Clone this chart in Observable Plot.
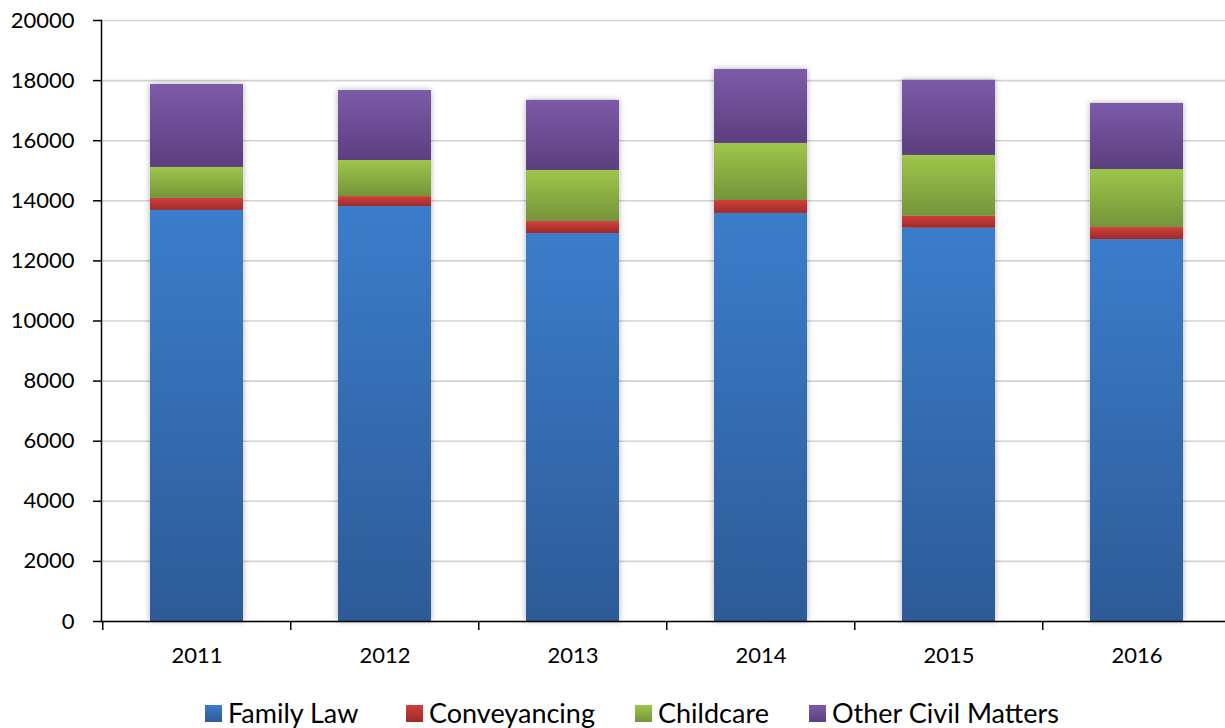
<!DOCTYPE html>
<html><head><meta charset="utf-8">
<script src="https://cdn.jsdelivr.net/npm/d3@7"></script>
<script src="https://cdn.jsdelivr.net/npm/@observablehq/plot@0.6"></script>
<style>
html,body{margin:0;padding:0;background:#fff;overflow:hidden;width:1225px;height:728px}
#wrap{position:relative;width:1225px;height:728px;overflow:hidden}
#chart{position:absolute;left:0;top:0;width:1232px}
#chart svg{max-width:none !important}
#legend{position:absolute;left:0;top:697px;width:1225px;height:32px;font-family:Lato,sans-serif;font-size:27px;color:#000;white-space:nowrap;line-height:32px}
.item{position:absolute;top:0;display:flex;align-items:center}
.sw{width:17px;height:17px;margin-right:6px}
</style>
</head><body>
<div id="wrap"><div id="chart"></div><div id="legend"></div></div>
<script>
const years = ["2011", "2012", "2013", "2014", "2015", "2016"];
const series = ["Family Law", "Conveyancing", "Childcare", "Other Civil Matters"];
const familyLaw = [13680, 13810, 12910, 13580, 13090, 12710];
const conveyancing = [400, 330, 400, 430, 400, 400];
const childcare = [1030, 1200, 1700, 1900, 2020, 1930];
const otherCivil = [2760, 2330, 2330, 2460, 2500, 2200];
const yTicks = [0, 2000, 4000, 6000, 8000, 10000, 12000, 14000, 16000, 18000, 20000];

const gradients = [
  ["#3b7dcb", "#2d5b97"],
  ["#d0403d", "#9e2b29"],
  ["#9ec64b", "#759439"],
  ["#7c5aa9", "#5c3f7e"]
];
const legendLeft = [205, 406, 635, 809];

const valuesBySeries = [familyLaw, conveyancing, childcare, otherCivil];
const data = [];
series.forEach((s, si) => years.forEach((y, yi) => data.push({year: y, series: s, value: valuesBySeries[si][yi]})));

const W = 1232, ML = 101, MR = 0;
const step = (W - ML - MR) / years.length;

const chart = Plot.plot({
  width: W,
  height: 680,
  marginLeft: ML,
  marginRight: MR,
  marginTop: 20,
  marginBottom: 59,
  style: {fontFamily: "Lato, sans-serif", fontSize: "22px", color: "#000", background: "#fff", maxWidth: "none"},
  x: {domain: years, paddingInner: 0.505, paddingOuter: 0.2525, label: null},
  y: {domain: [0, 20000], label: null},
  color: {domain: series, range: series.map((s, i) => `url(#grad${i})`)},
  marks: [
    Plot.gridY(yTicks, {stroke: "#d3d3d3", strokeOpacity: 1, strokeWidth: 1.6}),
    Plot.barY(data, {x: "year", y: "value", fill: "series", order: null}),
    Plot.axisY(yTicks, {tickSize: 8, tickPadding: 19, tickFormat: d3.format("d"), strokeWidth: 1.5, fontSize: 22}),
    Plot.axisX(years, {tickSize: 9, dx: -step / 2, tickFormat: () => "", strokeWidth: 1.5}),
    Plot.axisX(years, {tickSize: 0, tickPadding: 26, fontSize: 22}),
    Plot.frame({anchor: "left", stroke: "#000", strokeWidth: 1.5}),
    Plot.ruleY([0], {stroke: "#000", strokeWidth: 1.5})
  ]
});

const svg = d3.select(chart);
const defs = svg.insert("defs", ":first-child");
gradients.forEach((g, i) => {
  const lg = defs.append("linearGradient").attr("id", `grad${i}`).attr("x1", 0).attr("y1", 0).attr("x2", 0).attr("y2", 1);
  lg.append("stop").attr("offset", "0%").attr("stop-color", g[0]);
  lg.append("stop").attr("offset", "100%").attr("stop-color", g[1]);
});
svg.selectAll("g[aria-label='bar']").style("filter", "drop-shadow(0px 0px 3px rgba(0,0,0,0.3))");
document.getElementById("chart").appendChild(chart);

const legend = document.getElementById("legend");
series.forEach((s, i) => {
  const item = document.createElement("div");
  item.className = "item";
  item.style.left = legendLeft[i] + "px";
  const sw = document.createElement("div");
  sw.className = "sw";
  sw.style.background = `linear-gradient(${gradients[i][0]}, ${gradients[i][1]})`;
  const t = document.createElement("span");
  t.textContent = s;
  item.appendChild(sw);
  item.appendChild(t);
  legend.appendChild(item);
});
</script>
</body></html>
